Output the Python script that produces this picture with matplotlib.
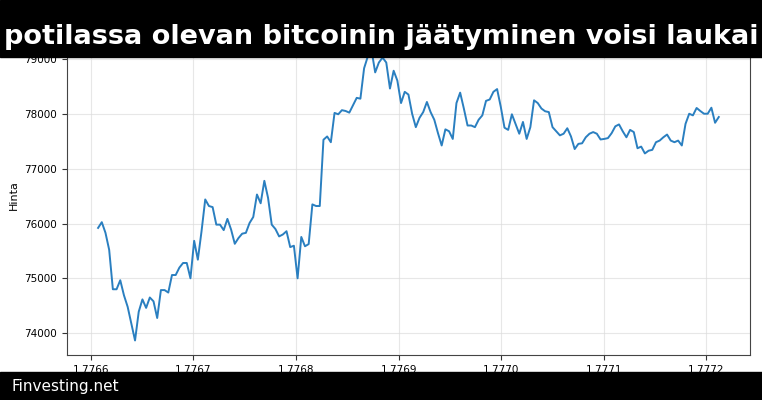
import numpy as np
import matplotlib
import matplotlib.pyplot as plt
from matplotlib.patches import Rectangle
from matplotlib.ticker import MultipleLocator

matplotlib.use('Agg')

# Hourly prices, timestamps in seconds
start_ts = 1776607200
step_s = 3600
prices = [
    75920, 76025, 75830, 75520, 74800, 74800, 74965, 74690, 74480, 74170,
    73865, 74390, 74615, 74460, 74650, 74580, 74275, 74785, 74785, 74740,
    75060, 75060, 75195, 75280, 75280, 75000, 75685, 75340, 75860, 76440,
    76320, 76300, 75980, 75980, 75880, 76085, 75890, 75630, 75735, 75815,
    75830, 76010, 76120, 76530, 76370, 76780, 76470, 75980, 75900, 75765,
    75800, 75860, 75570, 75595, 75000, 75755, 75585, 75625, 76350, 76320,
    76320, 77530, 77590, 77485, 78020, 77995, 78070, 78055, 78025, 78160,
    78295, 78280, 78835, 79050, 79170, 78760, 78940, 79030, 78940, 78465,
    78790, 78610, 78200, 78405, 78355, 78005, 77760, 77930, 78035, 78220,
    78035, 77895, 77650, 77425, 77720, 77685, 77545, 78200, 78390, 78100,
    77790, 77790, 77760, 77895, 77975, 78240, 78265, 78405, 78455, 78130,
    77750, 77710, 77995, 77820, 77640, 77855, 77545, 77760, 78250, 78200,
    78100, 78050, 78035, 77760, 77685, 77610, 77640, 77740, 77590, 77360,
    77455, 77465, 77575, 77640, 77670, 77640, 77535, 77545, 77560, 77650,
    77775, 77810, 77685, 77575, 77710, 77670, 77375, 77405, 77280, 77330,
    77345, 77485, 77515, 77575, 77625, 77515, 77485, 77515, 77425, 77820,
    78005, 77975, 78110, 78055, 78005, 78005, 78115, 77840, 77945,
]
times = start_ts + step_s * np.arange(len(prices))

title = "potilassa olevan bitcoinin jäätyminen voisi laukai"
footer = "Finvesting.net"

fig = plt.figure(figsize=(7.62, 4.0), dpi=100)
ax = fig.add_axes([0.088, 0.1125, 0.896, 0.799])

ax.plot(times, prices, color="#2a7fc0", linewidth=1.4)
ax.xaxis.set_major_locator(MultipleLocator(1e5))
ax.ticklabel_format(axis="x", useOffset=False)
ax.tick_params(labelsize=7.5, length=3.5, color="#333333")
ax.set_ylabel("Hinta", fontsize=8)
ax.grid(True, color="#dddddd", linewidth=0.8, alpha=0.7)
for sp in ax.spines.values():
    sp.set_color("#444444")

# black bands on top and bottom
fig.patches.append(Rectangle((0, 0.8575), 1, 0.1425, transform=fig.transFigure,
                             color="black", zorder=10))
fig.patches.append(Rectangle((0, 0), 1, 0.07, transform=fig.transFigure,
                             color="black", zorder=10))
fig.text(0.5, 0.89, title, color="white", fontsize=19.5, fontweight="bold",
         ha="center", va="baseline", zorder=11)
fig.text(0.015, 0.035, footer, color="white", fontsize=11,
         ha="left", va="center", zorder=11)

fig.savefig("out.png", dpi=100)
